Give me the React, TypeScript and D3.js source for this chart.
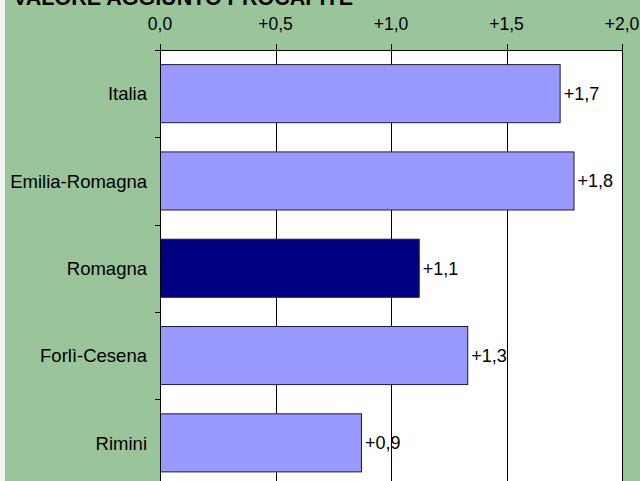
import React from "react";
import * as d3 from "d3";

const categories = ["Italia", "Emilia-Romagna", "Romagna", "Forlì-Cesena", "Rimini"];
const values = [1.73, 1.79, 1.12, 1.33, 0.87];
const valueLabels = ["+1,7", "+1,8", "+1,1", "+1,3", "+0,9"];
const highlight = ["Romagna"];
const tickValues = [0, 0.5, 1.0, 1.5, 2.0];
const tickLabels = ["0,0", "+0,5", "+1,0", "+1,5", "+2,0"];
const title = "VALORE AGGIUNTO PROCAPITE";

export default function App() {
  const W = 640;
  const H = 481;
  const left = 160;
  const right = 622;
  const top = 50;
  const band = 87.3;
  const bottom = top + band * categories.length;

  const x = d3.scaleLinear().domain([0, 2]).range([left, right]);
  const y = d3
    .scaleBand<string>()
    .domain(categories)
    .range([top, bottom])
    .paddingInner(0.335)
    .paddingOuter(0.1675);

  const font = "'Liberation Sans', Arial, sans-serif";

  return (
    <svg
      width={W}
      height={H}
      style={{ position: "absolute", left: 0, top: 0, display: "block" }}
      fontFamily={font}
    >
      <rect x={0} y={0} width={W} height={H} fill="#9AC49A" />
      <rect x={0} y={0} width={5} height={H} fill="#F2F7F2" />
      <text x={13} y={5} fontSize={21.5} fontWeight="bold" fill="#000">
        {title}
      </text>
      <rect x={left} y={top} width={right - left} height={bottom - top} fill="#fff" />
      {tickValues.map((t, i) => (
        <g key={"g" + i}>
          <line
            x1={Math.round(x(t)) + 0.5}
            x2={Math.round(x(t)) + 0.5}
            y1={top - 6}
            y2={bottom}
            stroke="#000"
            strokeWidth={1}
          />
          <text
            x={x(t)}
            y={30}
            fontSize={17.5}
            textAnchor="middle"
            fill="#000"
          >
            {tickLabels[i]}
          </text>
        </g>
      ))}
      <line x1={left - 5} x2={right} y1={top + 0.5} y2={top + 0.5} stroke="#000" />
      {categories.map((c, i) => (
        <line
          key={"t" + i}
          x1={left - 5}
          x2={left}
          y1={Math.round(top + band * (i + 1)) + 0.5}
          y2={Math.round(top + band * (i + 1)) + 0.5}
          stroke="#000"
        />
      ))}
      {categories.map((c, i) => {
        const yy = y(c) as number;
        const bw = y.bandwidth();
        return (
          <g key={c}>
            <rect
              x={x(0) + 0.5}
              y={yy}
              width={x(values[i]) - x(0)}
              height={bw}
              fill={highlight.includes(c) ? "#000080" : "#9999FF"}
              stroke="#1a1a40"
              strokeWidth={1}
            />
            <text
              x={x(values[i]) + 4}
              y={yy + bw / 2}
              dy="0.36em"
              fontSize={18}
              fill="#000"
            >
              {valueLabels[i]}
            </text>
            <text
              x={147}
              y={yy + bw / 2}
              dy="0.36em"
              fontSize={18.5}
              textAnchor="end"
              fill="#000"
            >
              {c}
            </text>
          </g>
        );
      })}
      <line x1={left + 0.5} x2={left + 0.5} y1={top} y2={bottom} stroke="#000" />
    </svg>
  );
}
